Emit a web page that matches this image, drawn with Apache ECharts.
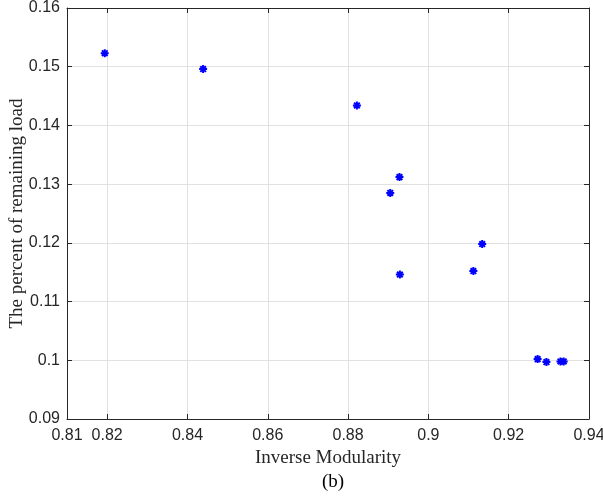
<!DOCTYPE html>
<html>
<head>
<meta charset="utf-8">
<script src="https://cdn.jsdelivr.net/npm/echarts@6/dist/echarts.min.js"></script>
<style>html,body{margin:0;padding:0;background:#fff;}#c{width:603px;height:497px;}</style>
</head>
<body>
<div id="c"></div>
<script>
const xValues = [0.8194, 0.8439, 0.8822, 0.8928, 0.8905, 0.8929, 0.9134, 0.9112, 0.9272, 0.9294, 0.9329, 0.9337];
const yValues = [0.1523, 0.1496, 0.1434, 0.1312, 0.1285, 0.1146, 0.1198, 0.1152, 0.1002, 0.0997, 0.0998, 0.0998];
const xName = 'Inverse Modularity';
const yName = 'The percent of remaining load';
const caption = '(b)';

const points = xValues.map((x, i) => [x, yValues[i]]);
const star = 'path://M0 -5L0 5M-5 0L5 0M-3.54 -3.54L3.54 3.54M-3.54 3.54L3.54 -3.54';
const axisCol = '#262626';
const lblFont = {fontFamily: 'Liberation Sans', fontSize: 16, color: axisCol};

const chart = echarts.init(document.getElementById('c'), null, {renderer: 'canvas'});
chart.setOption({
  animation: false,
  backgroundColor: '#fff',
  grid: {left: 67, right: 14, top: 8, bottom: 78, containLabel: false, outerBoundsMode: 'none'},
  title: {text: caption, left: 328, textAlign: 'center', top: 468,
    textStyle: {fontFamily: 'Liberation Serif', fontSize: 19, fontWeight: 'normal', color: '#000'}},
  xAxis: [{
    type: 'value', min: 0.81, max: 0.94, splitNumber: 6, position: 'bottom',
    name: xName, nameLocation: 'middle', nameGap: 30,
    nameTextStyle: {fontFamily: 'Liberation Serif', fontSize: 19, color: axisCol},
    axisLine: {onZero: false, lineStyle: {color: axisCol, width: 1}},
    axisTick: {inside: true, length: 5, lineStyle: {color: axisCol}},
    axisLabel: Object.assign({margin: 9, showMinLabel: true, showMaxLabel: true, hideOverlap: false}, lblFont),
    splitLine: {show: true, lineStyle: {color: '#e1e1e1', width: 1}}
  }, {
    type: 'value', min: 0.81, max: 0.94, splitNumber: 6, position: 'top',
    axisLine: {onZero: false, lineStyle: {color: axisCol, width: 1}},
    axisTick: {inside: true, length: 5, lineStyle: {color: axisCol}},
    axisLabel: {show: false}, splitLine: {show: false}
  }],
  yAxis: [{
    type: 'value', min: 0.09, max: 0.16, interval: 0.01, position: 'left',
    name: yName, nameLocation: 'middle', nameGap: 40, nameRotate: 90, nameMoveOverlap: false,
    nameTextStyle: {fontFamily: 'Liberation Serif', fontSize: 19, color: axisCol},
    axisLine: {onZero: false, lineStyle: {color: axisCol, width: 1}},
    axisTick: {inside: true, length: 5, lineStyle: {color: axisCol}},
    axisLabel: Object.assign({margin: 7, showMinLabel: true, showMaxLabel: true}, lblFont),
    splitLine: {show: true, lineStyle: {color: '#e1e1e1', width: 1}}
  }, {
    type: 'value', min: 0.09, max: 0.16, interval: 0.01, position: 'right',
    axisLine: {onZero: false, lineStyle: {color: axisCol, width: 1}},
    axisTick: {inside: true, length: 5, lineStyle: {color: axisCol}},
    axisLabel: {show: false}, splitLine: {show: false}
  }],
  series: [{
    type: 'scatter', xAxisIndex: 0, yAxisIndex: 0,
    data: points, symbol: star, symbolSize: 8,
    itemStyle: {color: '#0000ff', borderColor: '#0000ff', borderWidth: 2, opacity: 1}
  }]
});
</script>
</body>
</html>
